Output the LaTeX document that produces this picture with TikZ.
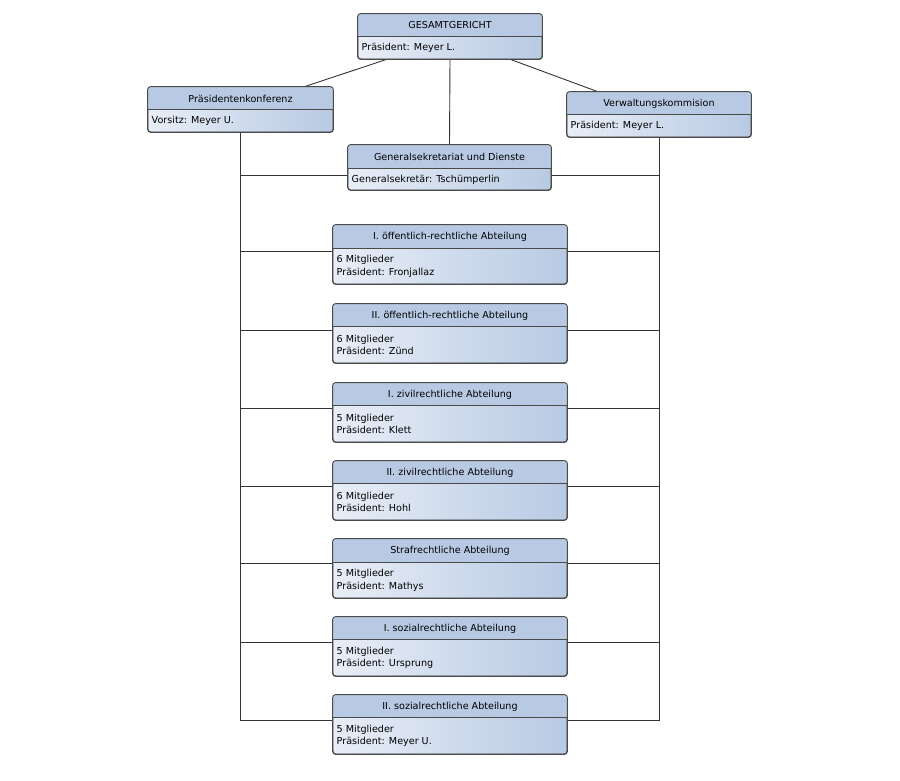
\documentclass[tikz,border=0pt]{standalone}
\usepackage{fontspec}
\setmainfont{DejaVu Sans}
\usetikzlibrary{calc}
\pgfdeclarelayer{canvas}
\pgfdeclarelayer{background}
\pgfsetlayers{canvas,background,main}
\definecolor{hdrc}{HTML}{B8CAE3}
\definecolor{bodyl}{HTML}{E8EEF7}
\definecolor{bodyr}{HTML}{B8CAE3}
\definecolor{brd}{HTML}{4A4A4A}
\definecolor{lnc}{HTML}{333333}
\tikzset{
  orgbox/.style={rectangle, rounded corners=3pt, left color=bodyl, right color=bodyr, draw=brd, line width=0.8pt, inner sep=0pt},
  hdrfill/.style={fill=hdrc},
  divline/.style={draw=brd, line width=0.8pt},
  rim/.style={draw=brd, line width=0.9pt, rounded corners=3pt},
  ttl/.style={font=\fontsize{9.6}{11}\selectfont, inner sep=0pt},
  bdy/.style={font=\fontsize{9.6}{12.5}\selectfont, inner sep=0pt, align=left, anchor=west},
  conn/.style={draw=lnc, line width=0.9pt}
}
% name, x1, y1, x2, y2, ydiv, title, body
\newcommand{\orgnode}[8]{%
  \node[orgbox, minimum width={(#4-#2)*1pt}, minimum height={(#5-#3)*1pt}] (#1) at ({(#2+#4)/2},{(#3+#5)/2}) {};
  \begin{scope}
    \clip[rounded corners=3pt] (#1.south west) rectangle (#1.north east);
    \fill[hdrfill] (#1.north west) rectangle (#4,#6);
  \end{scope}
  \draw[divline] (#2,#6) -- (#4,#6);
  \draw[rim] (#1.south west) rectangle (#1.north east);
  \node[ttl] (#1-t) at ({(#2+#4)/2},{(#3+#6)/2+0.5}) {#7};
  \node[bdy] (#1-b) at ({#2+3.5},{(#6+#5)/2+0.5}) {#8};
}
\begin{document}
\begin{tikzpicture}[x=1pt,y=-1pt]
\begin{pgfonlayer}{canvas}
\fill[white] (0,0) rectangle (900,780);
\end{pgfonlayer}
\useasboundingbox (0,0) rectangle (900,780);

\orgnode{G}{358}{14}{542}{59}{36}{GESAMTGERICHT}{Präsident: Meyer L.}
\orgnode{PK}{148}{87}{333}{132}{109}{Präsidentenkonferenz}{Vorsitz: Meyer U.}
\orgnode{VK}{567}{92}{751}{137}{114}{Verwaltungskommision}{Präsident: Meyer L.}
\orgnode{GS}{348}{145}{551}{190}{168}{Generalsekretariat und Dienste}{Generalsekretär: Tschümperlin}
\orgnode{A1}{333}{225}{567}{284}{248}{I. öffentlich-rechtliche Abteilung}{6 Mitglieder\\Präsident: Fronjallaz}
\orgnode{A2}{333}{304}{567}{363}{326}{II. öffentlich-rechtliche Abteilung}{6 Mitglieder\\Präsident: Zünd}
\orgnode{A3}{333}{383}{567}{442}{405}{I. zivilrechtliche Abteilung}{5 Mitglieder\\Präsident: Klett}
\orgnode{A4}{333}{461}{567}{520}{483}{II. zivilrechtliche Abteilung}{6 Mitglieder\\Präsident: Hohl}
\orgnode{A5}{333}{539}{567}{598}{562}{Strafrechtliche Abteilung}{5 Mitglieder\\Präsident: Mathys}
\orgnode{A6}{333}{617}{567}{676}{639}{I. sozialrechtliche Abteilung}{5 Mitglieder\\Präsident: Ursprung}
\orgnode{A7}{333}{695}{567}{754}{717}{II. sozialrechtliche Abteilung}{5 Mitglieder\\Präsident: Meyer U.}

\coordinate (hGS) at (0,175);
\coordinate (hA1) at ([yshift=-27pt]A1.north);
\coordinate (hA2) at ([yshift=-27pt]A2.north);
\coordinate (hA3) at ([yshift=-26pt]A3.north);
\coordinate (hA4) at ([yshift=-26pt]A4.north);
\coordinate (hA5) at ([yshift=-25pt]A5.north);
\coordinate (hA6) at ([yshift=-26pt]A6.north);
\coordinate (hA7) at ([yshift=-26pt]A7.north);
\coordinate (LB) at (PK.south |- hA7);
\coordinate (RB) at (VK.south |- hA7);

\begin{pgfonlayer}{background}
  \draw[conn] ([xshift=29pt]G.south west) -- ([xshift=157pt]PK.north west);
  \draw[conn] ([xshift=-32pt]G.south east) -- ([xshift=31pt]VK.north west);
  \draw[conn] (G.south) -- (GS.north);
  \draw[conn] (PK.south) -- (LB);
  \draw[conn] (VK.south) -- (RB);
  \draw[conn] (LB) -- (A7.west |- hA7);
  \draw[conn] (A7.east |- hA7) -- (RB);
  \foreach \n in {GS,A1,A2,A3,A4,A5,A6}{
    \draw[conn] (h\n -| PK.south) -- (h\n -| \n.west);
    \draw[conn] (h\n -| \n.east) -- (h\n -| VK.south);
  }
\end{pgfonlayer}
\end{tikzpicture}
\end{document}
